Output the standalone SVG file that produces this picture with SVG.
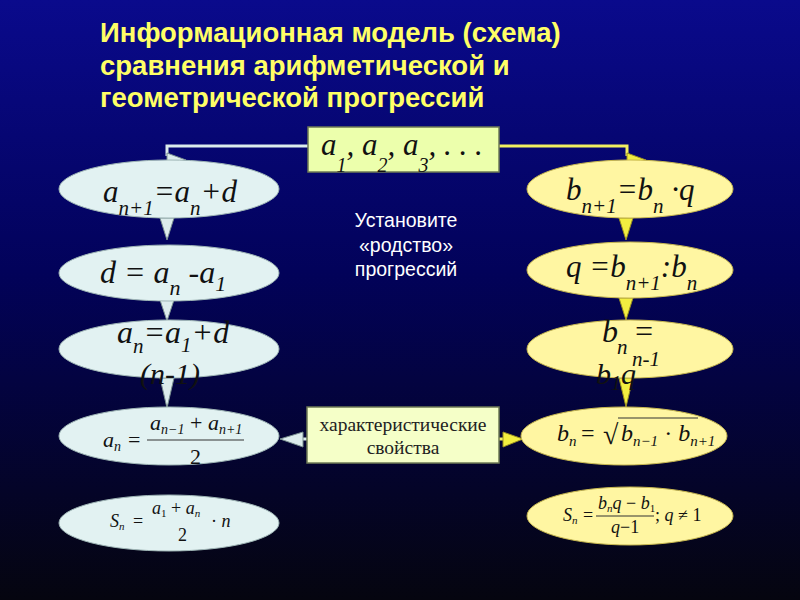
<svg xmlns="http://www.w3.org/2000/svg" width="800" height="600" viewBox="0 0 800 600">
<defs>
<linearGradient id="bg" x1="0" y1="0" x2="0" y2="1">
<stop offset="0" stop-color="#0a0a8c"/>
<stop offset="0.45" stop-color="#02025a"/>
<stop offset="1" stop-color="#05050f"/>
</linearGradient>
</defs>
<style>
.title{font-family:"Liberation Sans",Arial,sans-serif;font-weight:bold;font-size:27.5px;fill:#ffff66}
.note{font-family:"Liberation Sans",Arial,sans-serif;font-size:19.5px;fill:#ffffff}
.ma{font-family:"Liberation Serif","Times New Roman",serif;font-style:italic;fill:#111111}
.up{font-style:normal}
.box{fill:#ecffac;stroke:#6d7a55;stroke-width:1.5}
.box2{fill:#f5ffc8;stroke:#6d7a55;stroke-width:1.5}
.el{fill:#e2f2f2;stroke:#9fb6b6;stroke-width:1}
.er{fill:#fff6a2;stroke:#c8b850;stroke-width:1}
.lc{fill:none;stroke:#dcecec;stroke-width:3}
.rc{fill:none;stroke:#f2f060;stroke-width:3}
.la{fill:#dcecec;stroke:#7a9090;stroke-width:1}
.ra{fill:#f2ee40;stroke:#9a9020;stroke-width:1}
.box-t{font-family:"Liberation Serif","Times New Roman",serif;font-size:19.5px;fill:#222}
</style>
<rect x="0" y="0" width="800" height="600" fill="url(#bg)"/>

<g id="title">
<text class="title" x="100" y="42">Информационная модель (схема)</text>
<text class="title" x="100" y="75">сравнения арифметической и</text>
<text class="title" x="100" y="107">геометрической прогрессий</text>
</g>

<g id="connectors">
<polyline class="lc" points="308,146 167,146 167,156"/>
<polygon class="la" points="167,153 186,160 167,167"/>
<polyline class="rc" points="499,146 627,146 627,156"/>
<polygon class="ra" points="627,153 646,160 627,167"/>
<polygon class="la" points="160,218 174,218 167,240"/>
<polygon class="la" points="160,300 174,300 167,321"/>
<polygon class="la" points="160,378 174,378 167,408"/>
<polygon class="ra" points="619,218 633,218 626,240"/>
<polygon class="ra" points="619,298 633,298 626,320"/>
<polygon class="ra" points="619,378 633,378 626,407"/>
<line class="lc" x1="311" y1="439" x2="298" y2="439"/>
<polygon class="la" points="303,432 280,439 303,447"/>
<line class="rc" x1="499" y1="439" x2="508" y2="439"/>
<polygon class="ra" points="503,432 523,439 503,447"/>
</g>

<g id="seq">
<rect class="box" x="308" y="127" width="191" height="45"/>
<text class="ma" x="321" y="155" font-size="31">a<tspan font-size="20" dy="17">1</tspan><tspan dy="-17">, a</tspan><tspan font-size="20" dy="17">2</tspan><tspan dy="-17">, a</tspan><tspan font-size="20" dy="17">3</tspan><tspan dy="-17">, . . .</tspan></text>
</g>

<g id="note">
<text class="note" x="406" y="227" text-anchor="middle">Установите</text>
<text class="note" x="406" y="252" text-anchor="middle">«родство»</text>
<text class="note" x="406" y="276" text-anchor="middle">прогрессий</text>
</g>

<g id="props">
<rect class="box2" x="307" y="407" width="192" height="56"/>
<text class="box-t" x="403" y="431" text-anchor="middle">характеристические</text>
<text class="box-t" x="403" y="454" text-anchor="middle">свойства</text>
</g>

<g id="a-rec">
<ellipse class="el" cx="169" cy="189" rx="110" ry="29"/>
<text class="ma" x="103" y="202" font-size="31">a<tspan font-size="21" dy="13">n+1</tspan><tspan dy="-13">=a</tspan><tspan font-size="21" dy="13">n</tspan><tspan dy="-13">+d</tspan></text>
</g>
<g id="a-diff">
<ellipse class="el" cx="169" cy="273" rx="110" ry="28"/>
<text class="ma" x="100" y="283" font-size="32">d = a<tspan font-size="22" dy="12">n</tspan><tspan dy="-12"> -a</tspan><tspan font-size="22" dy="8">1</tspan></text>
</g>
<g id="a-nth">
<ellipse class="el" cx="169" cy="349" rx="110" ry="29"/>
<text class="ma" x="117" y="343" font-size="32">a<tspan font-size="21" dy="10">n</tspan><tspan dy="-10">=a</tspan><tspan font-size="21" dy="9">1</tspan><tspan dy="-9">+d</tspan></text>
<text class="ma" x="170" y="384" font-size="30" text-anchor="middle">(n-1)</text>
</g>
<g id="a-char">
<ellipse class="el" cx="169" cy="436" rx="110" ry="29"/>
<text class="ma" x="103" y="447" font-size="22" fill="#333">a<tspan font-size="14" dy="4">n</tspan></text>
<text class="ma up" x="128" y="447" font-size="22" fill="#333">=</text>
<text class="ma" x="150" y="430" font-size="22" fill="#333">a<tspan font-size="14" dy="4">n−1</tspan><tspan dy="-4" class="up"> + </tspan>a<tspan font-size="14" dy="4">n+1</tspan></text>
<line x1="147" y1="440" x2="244" y2="440" stroke="#333" stroke-width="1.2"/>
<text class="ma up" x="190" y="464" font-size="22" fill="#333">2</text>
</g>
<g id="a-sum">
<ellipse class="el" cx="169" cy="523" rx="110" ry="28"/>
<text class="ma" x="110" y="527" font-size="18" fill="#333">S<tspan font-size="11" dy="3">n</tspan></text>
<text class="ma up" x="133" y="527" font-size="18" fill="#333">=</text>
<text class="ma" x="152" y="514" font-size="18" fill="#333">a<tspan font-size="11" dy="3" class="up">1</tspan><tspan dy="-3" class="up"> + </tspan>a<tspan font-size="11" dy="3">n</tspan></text>
<text class="ma up" x="178" y="541" font-size="18" fill="#333">2</text>
<text class="ma" x="211" y="527" font-size="18" fill="#333"><tspan class="up">· </tspan>n</text>
</g>

<g id="b-rec">
<ellipse class="er" cx="630" cy="189" rx="103" ry="29"/>
<text class="ma" x="566" y="200" font-size="31">b<tspan font-size="21" dy="13">n+1</tspan><tspan dy="-13">=b</tspan><tspan font-size="21" dy="13">n</tspan><tspan dy="-13"> ·q</tspan></text>
</g>
<g id="b-ratio">
<ellipse class="er" cx="630" cy="270" rx="103" ry="28"/>
<text class="ma" x="566" y="277" font-size="31">q =b<tspan font-size="21" dy="13">n+1</tspan><tspan dy="-13">:b</tspan><tspan font-size="21" dy="13">n</tspan></text>
</g>
<g id="b-nth">
<ellipse class="er" cx="630" cy="349" rx="103" ry="29"/>
<text class="ma" x="602" y="342" font-size="32">b</text>
<text class="ma" x="617" y="354" font-size="21">n</text>
<text class="ma" x="633" y="342" font-size="32">=</text>
<text class="ma" x="632" y="366" font-size="21">n-1</text>
<text class="ma" x="596" y="384" font-size="30">b<tspan font-size="20" dy="6">1</tspan><tspan dy="-6">q</tspan></text>
</g>
<g id="b-char">
<ellipse class="er" cx="624" cy="436" rx="103" ry="29"/>
<text class="ma" x="557" y="441" font-size="24" fill="#333">b<tspan font-size="15" dy="5">n</tspan></text>
<text class="ma up" x="581" y="441" font-size="24" fill="#333">=</text>
<text class="ma up" x="603" y="444" font-size="28" fill="#333">√</text>
<line x1="618" y1="418" x2="698" y2="418" stroke="#333" stroke-width="1.2"/>
<text class="ma" x="621" y="441" font-size="24" fill="#333">b<tspan font-size="15" dy="5">n−1</tspan><tspan dy="-5" class="up"> · </tspan>b<tspan font-size="15" dy="5">n+1</tspan></text>
</g>
<g id="b-sum">
<ellipse class="er" cx="630" cy="516" rx="103" ry="29"/>
<text class="ma" x="563" y="521" font-size="18" fill="#333">S<tspan font-size="11" dy="3">n</tspan></text>
<text class="ma up" x="583" y="521" font-size="18" fill="#333">=</text>
<text class="ma" x="598" y="509" font-size="18" fill="#333">b<tspan font-size="11" dy="3">n</tspan><tspan dy="-3">q</tspan><tspan class="up"> − </tspan>b<tspan font-size="11" dy="3" class="up">1</tspan></text>
<line x1="596" y1="516" x2="654" y2="516" stroke="#333" stroke-width="1"/>
<text class="ma" x="611" y="533" font-size="18" fill="#333">q<tspan class="up">−1</tspan></text>
<text class="ma" x="655" y="521" font-size="18" fill="#333"><tspan class="up">; </tspan>q<tspan class="up"> ≠ 1</tspan></text>
</g>
</svg>
